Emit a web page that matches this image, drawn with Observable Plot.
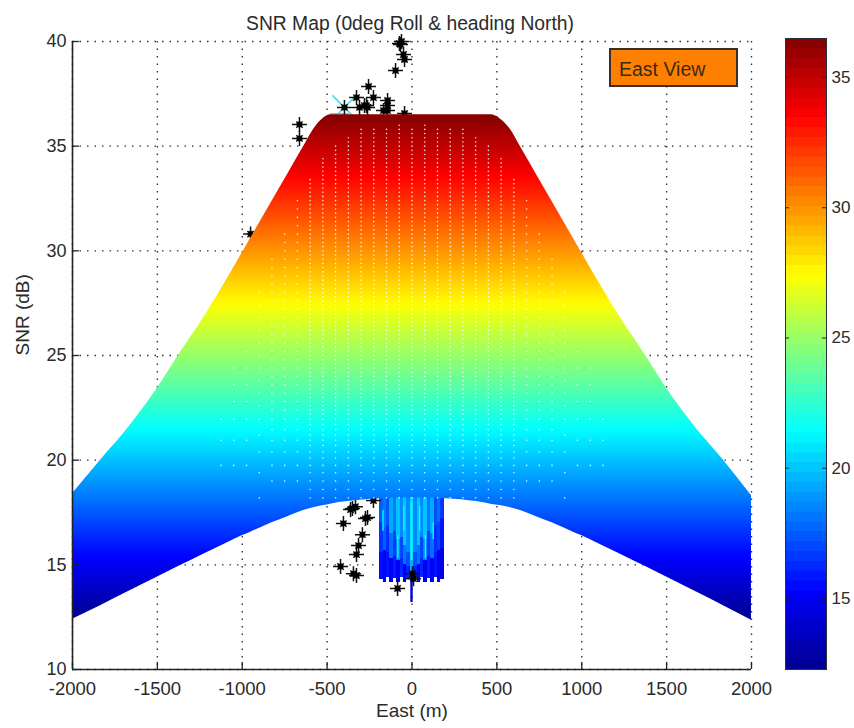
<!DOCTYPE html>
<html><head><meta charset="utf-8">
<script src="https://cdn.jsdelivr.net/npm/d3@7"></script>
<script src="https://cdn.jsdelivr.net/npm/@observablehq/plot@0.6"></script>
<style>
html,body{margin:0;padding:0;background:#fff;width:854px;height:728px;overflow:hidden}
#wrap{position:relative;width:854px;height:728px;font-family:"Liberation Sans",Arial,sans-serif}
#wrap svg{position:absolute;background:transparent}
#btn{position:absolute;left:609px;top:48px;width:125px;height:35px;background:#ff8000;border:2px solid #3a3026;color:#3a2a12;font-size:19.5px;line-height:38px;padding:0;text-indent:8px}
</style></head><body><div id="wrap"><div id="btn">East View</div></div>
<script>
const xTicks=[-2000,-1500,-1000,-500,0,500,1000,1500,2000];
const yTicks=[10,15,20,25,30,35,40];
const barTicks=[15,20,25,30,35];
const snrMin=12.27, snrMax=36.5;
const jetDomain=[12.27,15.3,21.4,27.4,33.5,36.5];
const jetRange=["#00008f","#0000ff","#00ffff","#ffff00","#ff0000","#800000"];

// Coverage band: upper and lower SNR envelope against East distance
const bandX=[-2000,-1835,-1676,-1511,-1376,-1228,-1087,-998,-951,-822,-733,-639,-580,-520,-480,-380,-200,0,200,380,465,520,580,639,733,822,951,998,1087,1228,1376,1511,1676,1835,2000];
const bandTop=[18.4,20.0,21.5,23.3,25.0,26.8,28.68,29.93,30.59,32.4,33.65,34.97,35.8,36.35,36.5,36.5,36.5,36.5,36.5,36.5,36.5,36.3,35.8,34.97,33.65,32.4,30.59,29.93,28.68,26.8,25.0,23.3,21.5,20.0,18.3];
const bandLow=[12.4,13.05,13.7,14.37,14.92,15.51,16.06,16.4,16.56,17.02,17.3,17.59,17.73,17.83,17.9,18.02,18.16,18.2,18.16,18.02,17.9,17.83,17.73,17.59,17.3,17.02,16.56,16.4,16.06,15.51,14.92,14.37,13.7,13.05,12.35];

// Black asterisk markers
const starX=[-74,-62,-68,-50,-44,-97,-256,-227,-327,-268,-280,-262,-309,-144,-144,-144,-168,-44,-398,-663,-663,-951,-227,-351,-333,-362,-262,-274,-404,-292,-315,-327,-421,-345,-327,-85,9,3];
const starY=[39.9,40.0,39.86,39.38,39.14,38.61,37.85,37.32,37.32,36.94,36.94,36.85,36.85,37.18,36.94,36.7,36.7,36.56,36.85,36.03,35.37,30.8,18.07,17.69,17.78,17.64,17.26,17.21,16.97,16.44,15.92,15.49,14.92,14.58,14.49,13.87,14.34,14.58];
const cyanX=[-398], cyanY=[36.85];
const cyanLineX=[-480,-375], cyanLineY=[36.55,36.55];

// Near-field spikes below the band: colour value and break depth per strip
const stripX=[-180,-160,-140,-120,-100,-80,-60,-40,-20,0,20,40,60,80,100,120,140,160,180];
const stripHigh=[17.6,18.2,17.4,19.4,18.2,20.0,18.6,20.0,18.6,20.5,18.6,20.0,18.6,20.0,18.2,19.4,17.2,18.0,16.6];
const stripBreakA=[17.0,16.8,16.9,16.5,16.6,16.2,16.3,15.9,15.6,15.2,15.6,15.9,16.3,16.2,16.6,16.5,16.9,17.0,17.2];
const stripMid=[16.6,17.6,16.4,18.0,16.8,18.4,17.0,18.2,17.2,19.5,17.2,18.2,17.0,18.4,16.8,18.0,16.4,17.0,15.8];
const stripBreakB=[15.6,15.7,15.6,15.3,15.4,15.2,15.3,15.0,14.9,14.6,14.9,15.0,15.3,15.2,15.4,15.3,15.6,15.7,15.8];
const stripDeep=[15.6,15.0,15.8,15.2,16.0,15.0,16.2,15.2,16.0,15.4,16.0,15.2,16.2,15.0,16.0,15.2,15.8,15.0,14.6];
const stripEnd=[14.3,14.15,14.4,14.15,14.35,14.15,14.4,14.15,14.3,14.2,14.3,14.15,14.4,14.15,14.35,14.15,14.4,14.15,14.3];
const streakX=[-168,-80,-45,0,48,82,128];
const streakTop=[17.6,16.4,17.8,18.0,17.8,16.4,17.0];
const streakEnd=[16.6,15.3,16.6,15.2,16.6,15.3,16.2];
const streakVal=[21.5,21.5,21.5,21.5,21.5,21.5,21.5];
const tailX=[0], tailTop=[14.4], tailEnd=[13.2], tailVal=[14.0];

// White sample points: columns and the SNR rows each one covers
const dotColX=[-1125,-1050,-975,-900,-825,-750,-675,-600,-525,-450,-375,-300,-225,-150,-75,0,75,150,225,300,375,450,525,600,675,750,825,900,975,1050,1125];
const dotColTop=[22.1,24.4,25.5,28.1,29.9,31.0,32.4,33.5,34.5,35.1,35.4,35.8,35.8,35.9,36.1,35.9,36.1,35.9,35.8,35.8,35.4,35.1,34.5,33.5,32.4,31.0,29.9,28.1,25.5,24.4,22.1];
const dotColEnd=[19.4,18.7,18.45,18.1,18.65,18.3,18.3,18.1,18.2,18.2,18.2,18.1,18.1,18.1,18.2,18.2,18.2,18.1,18.1,18.1,18.2,18.2,18.2,18.1,18.3,18.3,18.65,18.1,18.45,18.7,19.4];
const dotColEvery=[4,4,4,3,2,2,2,1,1,1,1,1,1,1,1,1,1,1,1,1,1,1,1,1,2,2,2,3,4,4,4];
const dotRows=[18.2,18.6,19.0,19.4,19.75,20.1,20.4,20.7,20.95,21.2,21.45,21.7,21.95,22.2,22.4,22.6,22.8,23.0,23.2,23.4,23.6,23.8,24.0,24.2,24.4,24.6,24.8,25.0,25.2,25.4,25.6,25.8,26.0,26.2,26.4,26.6,26.8,27.0,27.2,27.4,27.6,27.8,28.0,28.2,28.4,28.6,28.8,29.0,29.2,29.4,29.6,29.8,30.0,30.2,30.4,30.6,30.8,31.0,31.2,31.4,31.6,31.8,32.0,32.2,32.4,32.6,32.8,33.0,33.2,33.4,33.6,33.8,34.0,34.2,34.4,34.6,34.8,35.0,35.2,35.4,35.6,35.8,36.0];

const band=bandX.map((x,i)=>({x,top:bandTop[i],low:bandLow[i]}));
const stars=starX.map((x,i)=>({x,y:starY[i]}));
const cyans=cyanX.map((x,i)=>({x,y:cyanY[i]}));
const cyanLine=cyanLineX.map((x,i)=>({x,y:cyanLineY[i]}));
const strips=stripX.flatMap((x,i)=>[
 {x1:x-10,x2:x+10,y1:18.4,y2:stripBreakA[i],v:stripHigh[i]},
 {x1:x-10,x2:x+10,y1:stripBreakA[i],y2:stripBreakB[i],v:stripMid[i]},
 {x1:x-10,x2:x+10,y1:stripBreakB[i],y2:stripEnd[i],v:stripDeep[i]}
]);
const streaks=streakX.map((x,i)=>({x1:x-4,x2:x+4,y1:streakTop[i],y2:streakEnd[i],v:streakVal[i]}));
const tail=tailX.map((x,i)=>({x1:x-7,x2:x+7,y1:tailTop[i],y2:tailEnd[i],v:tailVal[i]}));
const dots=dotColX.flatMap((x,c)=>dotRows.filter((y,r)=>y<=dotColTop[c]&&y>=dotColEnd[c]&&r%dotColEvery[c]===0).map(y=>({x,y})));

const jet=d3.scaleLinear().domain(jetDomain).range(jetRange);
const nLevels=64;
const levels=d3.range(nLevels).map(i=>{
  const a=snrMin+(snrMax-snrMin)*i/nLevels, b=snrMin+(snrMax-snrMin)*(i+1)/nLevels;
  return {a,b,c:jet((a+b)/2)};
});
const colorScale={type:"linear",domain:jetDomain,range:jetRange,clamp:true};

function jetDefs(){
  const d=d3.create("svg:defs");
  const g=d.append("linearGradient").attr("id","jetFill").attr("x1",0).attr("x2",0).attr("y1",1).attr("y2",0);
  levels.forEach((l,i)=>{
    g.append("stop").attr("offset",(i+0.5)/nLevels).attr("stop-color",l.c);
  });
  return d.node();
}
const starSym={draw(c,s){const r=Math.sqrt(s/Math.PI),d=r*0.42;
  c.moveTo(-r,0);c.lineTo(r,0);c.moveTo(0,-r);c.lineTo(0,r);
  c.moveTo(-d,-d);c.lineTo(d,d);c.moveTo(-d,d);c.lineTo(d,-d);}};

const font='"Liberation Sans",Arial,sans-serif', ink="#2a2a2a";
const gridDash="1.5,6";
const main=Plot.plot({
  width:854,height:728,marginLeft:72,marginRight:103,marginTop:41,marginBottom:59,
  style:{fontFamily:font,background:"transparent",overflow:"visible"},
  x:{domain:[-2000,2000]},y:{domain:[10,40]},
  color:colorScale,
  marks:[
    jetDefs,
    Plot.ruleX(xTicks,{stroke:"#333",strokeWidth:1.4,strokeDasharray:gridDash}),
    Plot.ruleY(yTicks,{stroke:"#333",strokeWidth:1.4,strokeDasharray:gridDash}),
    Plot.rect(strips,{x1:"x1",x2:"x2",y1:"y1",y2:"y2",fill:"v",shapeRendering:"crispEdges"}),
    Plot.rect(streaks,{x1:"x1",x2:"x2",y1:"y1",y2:"y2",fill:"v"}),
    Plot.rect(tail,{x1:"x1",x2:"x2",y1:"y1",y2:"y2",fill:"v"}),
    Plot.line(cyanLine,{x:"x",y:"y",stroke:"#45dde6",strokeWidth:1.5}),
    Plot.dot(cyans,{x:"x",y:"y",r:11,symbol:"times",stroke:"#45dde6",strokeWidth:1.5}),
    Plot.dot(stars,{x:"x",y:"y",r:7.5,symbol:starSym,stroke:"#111",strokeWidth:1.5}),
    Plot.dot(stars,{x:"x",y:"y",r:3,fill:"#000",stroke:"none"}),
    Plot.areaY(band,{x:"x",y1:"low",y2:"top",fill:"url(#jetFill)",curve:"monotone-x"}),
    Plot.dot(dots,{x:"x",y:"y",r:0.8,fill:"#fff",fillOpacity:0.85,stroke:"none"}),
    Plot.ruleX(xTicks,{y1:10,y2:10.34,stroke:"#222",strokeWidth:1.3}),
    Plot.ruleY(yTicks,{x1:-2000,x2:-1960,stroke:"#222",strokeWidth:1.3}),
    Plot.ruleX([-2000],{stroke:"#222",strokeWidth:1.6}),
    Plot.ruleY([10],{stroke:"#222",strokeWidth:1.6}),
    Plot.axisX({ticks:xTicks,tickSize:0,tickPadding:12,fontSize:18.5,color:ink,tickFormat:d=>String(d),label:null}),
    Plot.axisY({ticks:yTicks,tickSize:0,tickPadding:6,fontSize:18,color:ink,label:null}),
    Plot.text(["SNR Map (0deg Roll & heading North)"],{frameAnchor:"top",dy:-25,dx:-2,fontSize:19.3,fill:ink,fontFamily:font}),
    Plot.text(["East (m)"],{frameAnchor:"bottom",dy:47,fontSize:19,fill:ink,fontFamily:font}),
    Plot.text(["SNR (dB)"],{frameAnchor:"left",dx:-50,rotate:-90,fontSize:19,fill:ink,fontFamily:font})
  ]
});
main.style.left="0px";main.style.top="0px";

const bar=Plot.plot({
  width:69,height:631,marginLeft:0,marginRight:28,marginTop:0,marginBottom:0,
  style:{fontFamily:font,background:"transparent",overflow:"visible"},
  x:{domain:[0,1],axis:null},y:{domain:[snrMin,snrMax]},
  marks:[
    Plot.rect(levels,{x1:0,x2:1,y1:"a",y2:"b",fill:"c",stroke:"c",strokeWidth:0.6,shapeRendering:"crispEdges"}),
    Plot.ruleY(barTicks,{x1:0,x2:0.1,stroke:"#222"}),
    Plot.ruleY(barTicks,{x1:0.9,x2:1,stroke:"#222"}),
    Plot.frame({stroke:"#2a3040"}),
    Plot.axisY({anchor:"right",ticks:barTicks,tickSize:0,tickPadding:5,fontSize:17,color:ink,label:null})
  ]
});
bar.style.left="785px";bar.style.top="38px";
const wrap=document.getElementById("wrap");
wrap.insertBefore(main,wrap.firstChild);
wrap.appendChild(bar);
</script></body></html>
